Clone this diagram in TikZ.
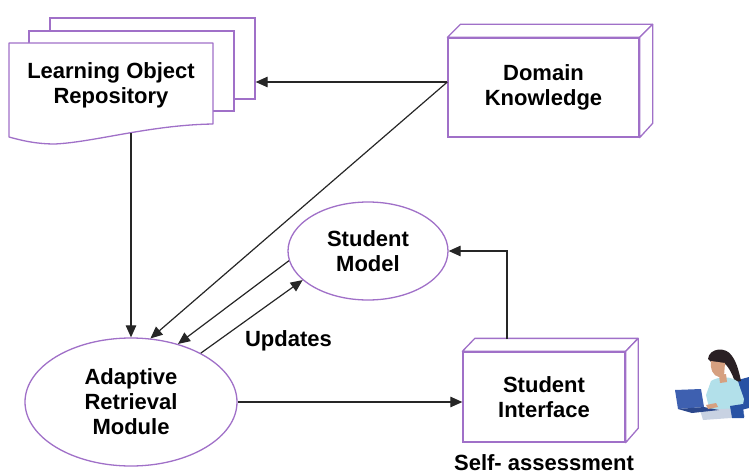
\documentclass[tikz,border=0pt]{standalone}
\usepackage{fontspec}
\setmainfont{Liberation Sans}
\usetikzlibrary{arrows.meta,shapes.geometric,calc}
\definecolor{frame}{RGB}{160,112,200}
\definecolor{hair}{RGB}{42,32,36}
\definecolor{skin}{RGB}{214,160,128}
\definecolor{shirt}{RGB}{178,224,234}
\definecolor{pants}{RGB}{200,210,226}
\definecolor{laptop}{RGB}{62,96,176}
\definecolor{laptopdark}{RGB}{44,72,140}
\definecolor{chair}{RGB}{40,82,164}
\begin{document}
\begin{tikzpicture}[x=1pt,y=-1pt,
  lbl/.style={font=\fontsize{22}{25}\selectfont\bfseries, align=center},
  box/.style={draw=frame, line width=1.3pt, fill=white, inner sep=0pt},
  face/.style={draw=frame, line width=1.3pt, fill=white, line join=round},
  oval/.style={ellipse, draw=frame, line width=1.3pt, fill=white, inner sep=0pt},
  link/.style={draw=black!85, line width=1.2pt, -{Triangle[length=12pt,width=10.5pt]}},
]
\useasboundingbox (0,0) rectangle (749,476);

% stacked pages of the repository
\node[box, minimum width=205, minimum height=81] (pageC) at (152.5,58.5) {};
\node[box, minimum width=205, minimum height=80] (pageB) at (131.5,71) {};
\draw[face] (9,43) -- (213,43) -- (213,124)
  .. controls (150,125) and (95,142) .. (55,144)
  .. controls (35,144) and (20,140) .. (9,137) -- cycle;
\node[lbl] (lor) at (111,85) {Learning Object\\Repository};
\coordinate (lorfoot) at (131,133);

% domain knowledge block
\node[box, lbl, minimum width=191, minimum height=99] (dk) at (543.5,87.5) {Domain\\Knowledge};
\draw[face] (dk.north west) -- ++(13,-13) -- ($(dk.north east)+(13,-13)$) -- (dk.north east) -- cycle;
\draw[face] (dk.north east) -- ++(13,-13) -- ++(0,99) -- (dk.south east) -- cycle;

% student interface block
\node[box, lbl, minimum width=162, minimum height=90] (si) at (544,397) {Student\\Interface};
\draw[face] (si.north west) -- ++(12.5,-13) -- ($(si.north east)+(12.5,-13)$) -- (si.north east) -- cycle;
\draw[face] (si.north east) -- ++(12.5,-13) -- ++(0,90) -- (si.south east) -- cycle;
\coordinate (sitop) at (507,339);
\node[lbl, anchor=base, inner sep=0pt] (self) at (544,470) {Self- assessment};

% modules
\node[oval, lbl, minimum width=212, minimum height=128] (arm) at (131,402) {Adaptive\\Retrieval\\Module};
\node[oval, lbl, minimum width=160, minimum height=98] (sm) at (368,251) {Student\\Model};

% connectors
\coordinate (dkport) at ([yshift=5.5pt]dk.west);
\draw[link] (dkport) -- (dkport -| pageC.east);
\draw[link] (dkport) -- (arm.73.5);
\draw[link] (lorfoot) -- (arm.north);
\draw[link] (sm.187.8) -- (arm.51);
\draw[link] (arm.35.4) -- (sm.204);
\node[lbl] (upd) at (288.5,341) {Updates};
\draw[link] (arm.east) -- (arm.east -| si.west);
\draw[link] (sitop) |- (sm.east);

% student at a laptop
\fill[chair] (738,380) -- (749,377) -- (749,408) -- (741,410) -- cycle;
\fill[hair] (708,359) .. controls (709,348) and (726,346) .. (732,356)
  .. controls (737,363) and (739,372) .. (741,381) -- (735,382)
  .. controls (732,373) and (728,366) .. (724,363) -- (712,363) -- cycle;
\fill[skin] (711,361) .. controls (710,369) and (713,376) .. (719,377)
  -- (724,376) -- (725,363) -- cycle;
\fill[shirt] (711,381) .. controls (719,376) and (732,376) .. (738,382)
  -- (744,399) -- (742,410) -- (710,412) -- (706,395) -- cycle;
\fill[skin] (719,375) -- (726,374) -- (727,382) -- (720,383) -- cycle;
\fill[pants] (700,410) -- (742,408) -- (745,417) -- (703,420) -- cycle;
\fill[chair] (730,406) -- (743,404) -- (744,418) -- (732,418) -- cycle;
\fill[laptop] (675,390) -- (701,389) -- (704,407) -- (678,409) -- cycle;
\fill[laptopdark] (678,409) -- (704,407) -- (719,410) -- (692,413) -- cycle;
\fill[skin] (706,405) -- (716,403) -- (718,407) -- (708,409) -- cycle;
\end{tikzpicture}
\end{document}
